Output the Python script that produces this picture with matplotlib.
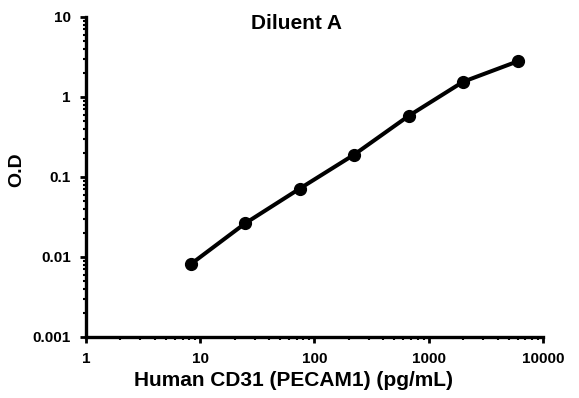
import numpy as np
import matplotlib
matplotlib.use("Agg")
import matplotlib.pyplot as plt
from matplotlib.ticker import LogLocator, FixedLocator, FixedFormatter

# dados da curva padrão (Diluent A)
conc = [8.23, 24.7, 74.1, 222, 667, 2000, 6000]
od = [0.0081, 0.0263, 0.0714, 0.19, 0.58, 1.55, 2.79]

xticks = [1, 10, 100, 1000, 10000]
xlabels = ["1", "10", "100", "1000", "10000"]
yticks = [0.001, 0.01, 0.1, 1, 10]
ylabels = ["0.001", "0.01", "0.1", "1", "10"]

plt.rcParams['font.family'] = ['Liberation Sans', 'DejaVu Sans']
plt.rcParams['font.weight'] = 'bold'

fig = plt.figure(figsize=(5.79, 3.98), dpi=100)
ax = fig.add_axes([0.1485, 0.1533, 0.7893, 0.804])

ax.plot(conc, od, color='black', lw=2.9, marker='o', markersize=8.5)
ax.set_xscale('log')
ax.set_yscale('log')
ax.set_xlim(1, 10000)
ax.set_ylim(0.001, 10)

ax.xaxis.set_major_locator(FixedLocator(xticks))
ax.xaxis.set_major_formatter(FixedFormatter(xlabels))
ax.yaxis.set_major_locator(FixedLocator(yticks))
ax.yaxis.set_major_formatter(FixedFormatter(ylabels))
ax.xaxis.set_minor_locator(LogLocator(base=10, subs=np.arange(2, 10)))
ax.yaxis.set_minor_locator(LogLocator(base=10, subs=np.arange(2, 10)))
ax.xaxis.set_minor_formatter(plt.NullFormatter())
ax.yaxis.set_minor_formatter(plt.NullFormatter())

for s in ['top', 'right']:
    ax.spines[s].set_visible(False)
for s in ['left', 'bottom']:
    ax.spines[s].set_linewidth(2.4)

ax.tick_params(axis='x', which='major', direction='out', length=4, width=2, labelsize=11, pad=7)
ax.tick_params(axis='y', which='major', direction='out', length=4, width=2, labelsize=11, pad=7)
ax.tick_params(which='minor', direction='out', length=2.5, width=1.5)

ax.set_xlabel("Human CD31 (PECAM1) (pg/mL)", fontsize=15, fontweight='bold')
ax.xaxis.set_label_coords(0.455, -0.1375)
ax.xaxis.label.set_va('center')
ax.set_ylabel("O.D", fontsize=14, fontweight='bold')
ax.yaxis.set_label_coords(-0.151, 0.522)
ax.yaxis.label.set_va('center')
ax.text(0.46, 0.981, "Diluent A", transform=ax.transAxes, ha='center', va='center',
        fontsize=15, fontweight='bold')

fig.savefig("out.png", dpi=100)
